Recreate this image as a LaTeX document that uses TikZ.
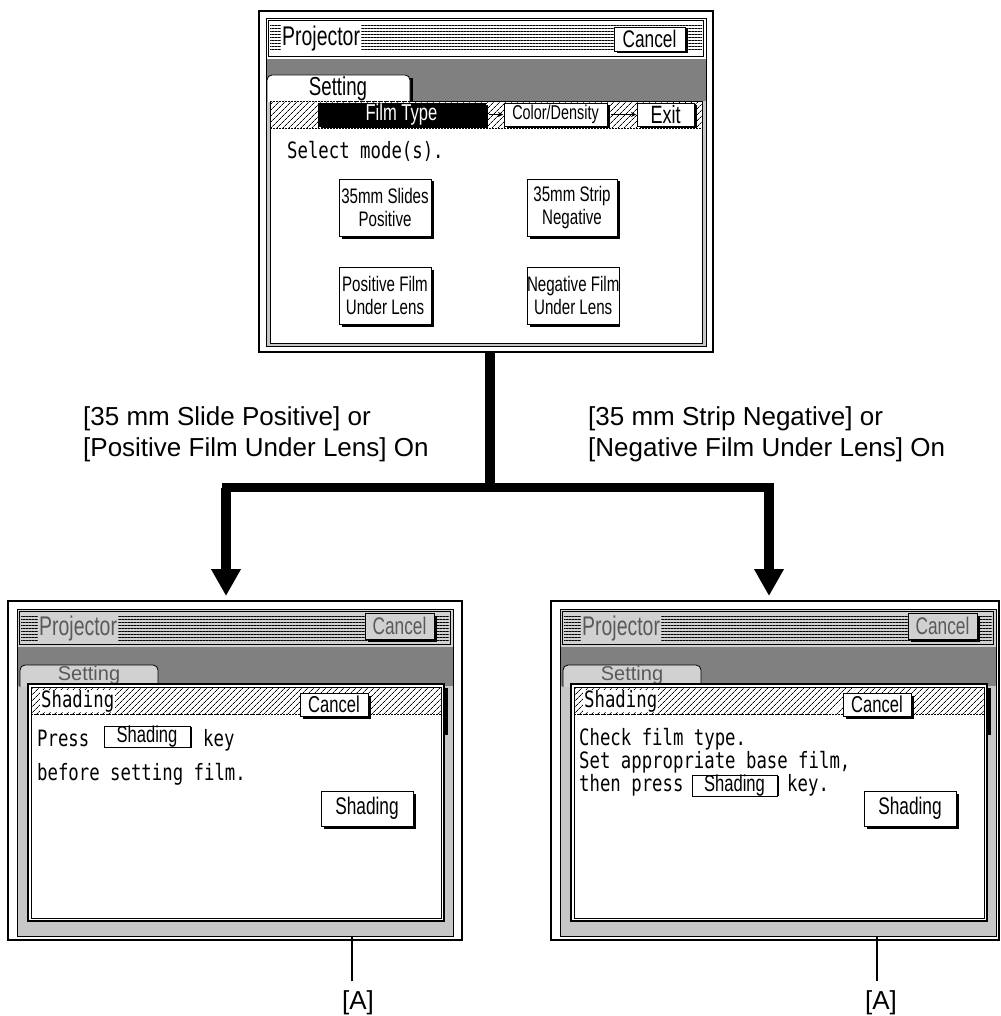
\documentclass[tikz,border=0pt]{standalone}
\usepackage{fontspec}
\setmainfont{Liberation Sans}
\newfontfamily\condf[FakeStretch=0.72]{Liberation Sans}
\newfontfamily\monof[FakeStretch=0.77]{DejaVu Sans Mono}
\usetikzlibrary{arrows.meta,patterns.meta}
\tikzset{
  scrframe/.style={draw, line width=2pt, fill=white, inner sep=0pt, outer sep=0pt},
  btnbox/.style={draw, line width=0.8pt, fill=white, inner sep=0pt, outer sep=0pt, align=center,
    font=\condf\fontsize{21}{23}\selectfont},
  monotxt/.style={font=\monof\fontsize{22.5}{23}\selectfont, inner sep=0pt, anchor=base west,
    text height=16pt, text depth=4pt},
  condlabel/.style={font=\fontsize{26}{31}\selectfont, inner sep=0pt, anchor=base west},
  hatch/.style={pattern={Lines[angle=45,distance=4pt,line width=0.7pt]}},
  hlines/.style={pattern={Lines[angle=0,distance=3pt,line width=1pt]}},
  lightdot/.style={fill=black!22},
  darkdot/.style={fill=black!50},
  conn/.style={line width=10pt},
  leader/.style={line width=1.2pt},
  smallarrow/.style={line width=0.7pt, -{Stealth[length=5pt,width=5pt]}},
}
\newcommand\scrbtn[7][]{%
  \fill[black] ({#3+2.5},{#4+2.5}) rectangle ({#5+2.5},{#6+2.5});
  \node[btnbox, minimum width={#5-#3}, minimum height={#6-#4}, anchor=north west, #1] (#2) at (#3,#4) {#7};}
\newcommand\keybox[6]{%
  \fill[black] ({#2+1.5},{#3+1.2}) rectangle ({#4+1.5},{#5+1.2});
  \node[btnbox, line width=0.7pt, minimum width={#4-#2}, minimum height={#5-#3}, anchor=north west,
    font=\condf\fontsize{23}{23}\selectfont] (#1) at (#2,#3) {#6};}
\newcommand\botscreen[3]{%
  \begin{scope}[shift={(#2,0)}]
    \node[scrframe, minimum width=#3, minimum height=339, anchor=north west] (#1scr) at (8,601) {};
    % title bar
    \draw[line width=0.8pt, fill=black!18] (17,609) rectangle (453,647);
    \draw[line width=0.6pt] (19.5,611.5) rectangle (450.5,644.5);
    \fill[hlines] (21,616) rectangle (449,641);
    \node[font=\condf\fontsize{27}{27}\selectfont, fill=black!18, text=black!65, inner sep=1pt, anchor=west] (#1prj) at (38,628.5) {Projector};
    \scrbtn[fill=black!18, text=black!65, font=\condf\fontsize{24}{24}\selectfont]{#1tcancel}{365}{613}{434}{639}{Cancel}
    % band and lower frame
    \fill[darkdot] (17,647) rectangle (453,686);
    \fill[lightdot] (17,686) rectangle (453,936);
    \draw[line width=0.8pt] (17,647) -- (17,936) -- (453,936) -- (453,647);
    % setting tab
    \draw[line width=0.8pt, fill=black!18, rounded corners=5pt] (20,687) -- (20,665) -- (158,665) -- (158,687);
    \node[font=\fontsize{20}{20}\selectfont, text=black!65, inner sep=0pt, anchor=base] (#1set) at (89,680) {Setting};
    % dialog
    \draw[line width=1.6pt, fill=white] (28,684) rectangle (444,921);
    \draw[line width=0.6pt] (31,687) rectangle (441,918);
    \fill[line width=0pt, black] (443,688) rectangle (448,735);
    \fill[hatch] (31.5,687.5) rectangle (440.5,714);
    \draw[line width=0.6pt, dash pattern=on 2pt off 1pt] (31,714) -- (441,714);
    \node[monotxt, anchor=west, fill=white, inner sep=1pt] (#1shd) at (40,701) {Shading};
    \scrbtn[font=\condf\fontsize{23}{23}\selectfont]{#1dcancel}{300}{693}{368}{716}{Cancel}
    \scrbtn[font=\condf\fontsize{24}{24}\selectfont]{#1shbtn}{321}{791}{413}{826}{Shading}
  \end{scope}}

\begin{document}
\begin{tikzpicture}[x=1pt,y=-1pt]
\fill[white] (0,0) rectangle (1000,1016);
\useasboundingbox (0,0) rectangle (1000,1016);

% ================= top screen =================
\node[scrframe, minimum width=454, minimum height=341, anchor=north west] (topscr) at (259,11) {};
% title bar
\draw[line width=0.8pt, fill=white] (266,18) rectangle (706,59);
\draw[line width=0.6pt] (268.5,20.5) rectangle (703.5,56.5);
\fill[hlines] (270,25) rectangle (702,52);
\node[font=\condf\fontsize{27}{27}\selectfont, fill=white, inner sep=1pt, anchor=west] (tprj) at (281,39) {Projector};
\scrbtn[font=\condf\fontsize{24}{24}\selectfont]{tcancel}{614}{27}{685}{51}{Cancel}
% band
\fill[darkdot] (266,59) rectangle (706,101);
% panel
\fill[lightdot] (266,101) rectangle (706,346);
\draw[line width=0.8pt] (266,59) -- (266,346) -- (706,346) -- (706,59);
\draw[line width=0.8pt, fill=white] (270,101) rectangle (702,343);
% setting tab
\fill[black] (408,78) rectangle (412.5,101);
\draw[line width=0.8pt, fill=white, rounded corners=5pt] (267,102) -- (267,75) -- (410,75) -- (410,102);
\node[font=\condf\fontsize{26}{26}\selectfont] (tset) at (338,89) {Setting};
% hatched strip
\fill[hatch] (270.5,101.5) rectangle (701.5,128);
\draw[line width=0.6pt, dash pattern=on 2pt off 1pt] (270,128) -- (702,128);
\draw[line width=0.6pt, dash pattern=on 2pt off 1pt] (270,101) -- (702,101);
\scrbtn[fill=black, text=white, font=\condf\fontsize{23}{23}\selectfont]{tfilm}{318}{103}{485}{126}{Film Type}
\scrbtn[font=\condf\fontsize{20}{20}\selectfont]{tcolor}{504}{103}{607}{126}{Color/Density}
\scrbtn[font=\condf\fontsize{25}{25}\selectfont]{texit}{637}{103}{694}{126}{Exit}
\draw[smallarrow] ([xshift=4pt]tfilm.east) -- ([xshift=-1pt]tcolor.west);
\draw[smallarrow] ([xshift=4pt]tcolor.east) -- ([xshift=-1pt]texit.west);
\node[monotxt] (tsel) at (287,159) {Select mode(s).};
\scrbtn{b1}{339}{179}{431}{236}{35mm Slides\\Positive}
\scrbtn{b2}{527}{179}{617}{236}{35mm Strip\\Negative}
\scrbtn{b3}{339}{267}{431}{324}{Positive Film\\Under Lens}
\scrbtn{b4}{527}{267}{617}{324}{Negative Film\\Under Lens}

% ================= bottom screens =================
\botscreen{l}{0}{454}
\botscreen{r}{543}{448}

% left screen text
\node[monotxt] (lpress) at (37,746) {Press};
\keybox{lkey}{104}{726}{190}{747}{Shading}
\node[monotxt] (lkeyw) at (203,746) {key};
\node[monotxt] (lbefore) at (37,780) {before setting film.};

% right screen text
\node[monotxt] (rcheck) at (579,745) {Check film type.};
\node[monotxt] (rset) at (579,768) {Set appropriate base film,};
\node[monotxt] (rthen) at (579,791) {then press};
\keybox{rkey}{692}{775}{777}{795}{Shading}
\node[monotxt] (rkeyw) at (787,791) {key.};

% ================= connectors =================
\coordinate (junc) at (490,487.5);
\coordinate (jl) at (226,487.5);
\coordinate (jr) at (769,487.5);
\draw[conn] (junc |- topscr.south) -- (junc);
\draw[line width=9pt, line cap=rect] (jl) -- (jr);
\draw[conn, -{Triangle[length=27pt,width=28pt]}, shorten >=5pt] (jl) -- (jl |- lscr.north);
\draw[conn, -{Triangle[length=27pt,width=28pt]}, shorten >=5pt] (jr) -- (jr |- rscr.north);

% labels
\node[condlabel] (labl1) at (83,425) {[35 mm Slide Positive] or};
\node[condlabel] (labl2) at (83,456) {[Positive Film Under Lens] On};
\node[condlabel] (labr1) at (588,425) {[35 mm Strip Negative] or};
\node[condlabel] (labr2) at (588,456) {[Negative Film Under Lens] On};

% [A] leaders
\node[condlabel, anchor=base] (lA) at (358,1009) {[A]};
\node[condlabel, anchor=base] (rA) at (881,1009) {[A]};
\coordinate (lAtop) at (352,981);
\coordinate (lAend) at (352,936);
\coordinate (rAtop) at (877,981);
\coordinate (rAend) at (877,936);
\draw[leader] (lAtop) -- (lAend);
\draw[leader] (rAtop) -- (rAend);
\end{tikzpicture}
\end{document}
